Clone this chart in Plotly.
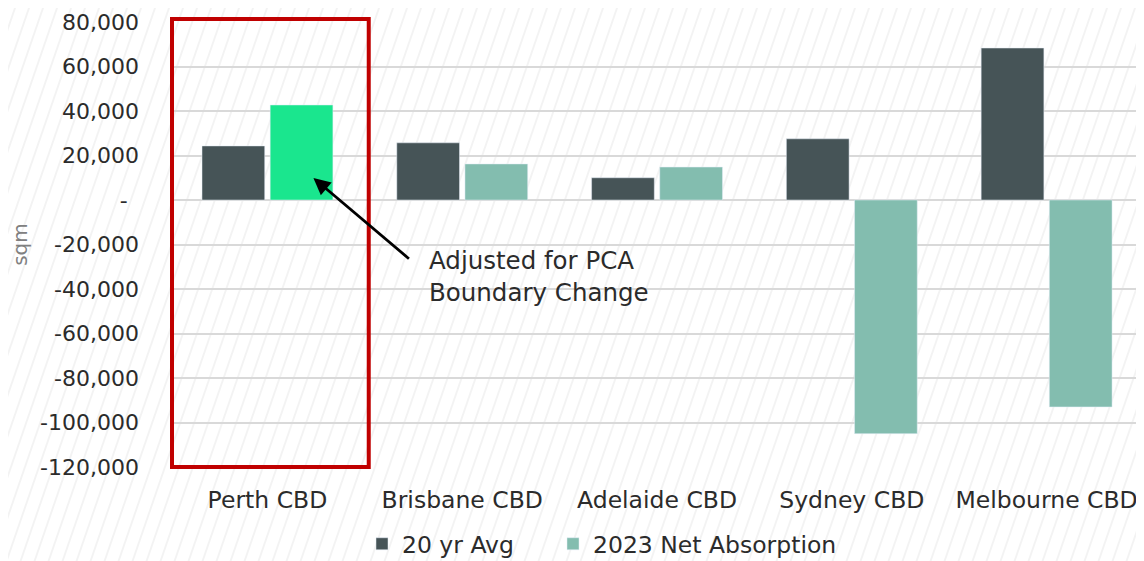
import base64
import plotly.graph_objects as go

categories = ["Perth CBD", "Brisbane CBD", "Adelaide CBD", "Sydney CBD", "Melbourne CBD"]
avg_20yr = [24300, 25700, 10000, 27500, 68300]
net_2023 = [42700, 16200, 14800, -105000, -93000]
highlight = [0]  # Perth CBD bar, adjusted for PCA boundary change
tick_vals = [80000, 60000, 40000, 20000, 0, -20000, -40000, -60000, -80000, -100000, -120000]
tick_text = ["80,000", "60,000", "40,000", "20,000", "-\u00a0\u2009", "-20,000", "-40,000",
             "-60,000", "-80,000", "-100,000", "-120,000"]

C_AVG = "#465457"
C_NET = "#83BDAF"
C_HI = "#1AE68E"
FONT = "DejaVu Sans"
TXT = "#2b2b2b"

# page body has an 8px margin, so the figure is drawn 8px in from the top-left
W, H = 1136, 553
ML, MR, MT, MB = 162, 0, 14, 94
PW, PH = W - ML - MR, H - MT - MB

svg = f'''<svg xmlns="http://www.w3.org/2000/svg" width="{W}" height="{H}">
<defs><pattern id="p" width="14" height="14" patternUnits="userSpaceOnUse" patternTransform="skewX(-19)">
<line x1="7" y1="-1" x2="7" y2="15" stroke="#e9e9e9" stroke-width="1.1"/></pattern></defs>
<rect width="{W}" height="{H}" fill="white"/><rect width="{W}" height="{H}" fill="url(#p)"/></svg>'''
src = "data:image/svg+xml;base64," + base64.b64encode(svg.encode()).decode()

fig = go.Figure()
fig.add_trace(go.Bar(name="20 yr Avg", x=categories, y=avg_20yr, marker_color=C_AVG,
                     legend="legend"))
fig.add_trace(go.Bar(name="2023 Net Absorption", x=categories, y=net_2023,
                     marker_color=C_NET, legend="legend2",
                     selectedpoints=highlight,
                     selected=dict(marker=dict(color=C_HI, opacity=1)),
                     unselected=dict(marker=dict(opacity=1))))

def leg(x_screen):
    return dict(orientation="h", x=(x_screen - 8 - ML) / PW, xanchor="left", y=-0.173,
                yanchor="middle", font=dict(size=23.5, color=TXT), itemwidth=30,
                bgcolor="rgba(0,0,0,0)")

fig.update_layout(
    width=W, height=H,
    margin=dict(l=ML, r=MR, t=MT, b=MB, autoexpand=False),
    paper_bgcolor="white", plot_bgcolor="rgba(0,0,0,0)",
    barmode="group", bargap=0.3, bargroupgap=0.08,
    font=dict(family=FONT, size=22, color=TXT),
    showlegend=True,
    legend=leg(362),
    legend2=leg(553),
    images=[dict(source=src, xref="paper", yref="paper", x=-ML / PW, y=1 + MT / PH,
                 sizex=W / PW, sizey=H / PH, sizing="stretch", layer="below",
                 xanchor="left", yanchor="top")],
)
fig.update_xaxes(showgrid=False, showline=False, ticks="", automargin=False,
                 tickfont=dict(size=23.5, color=TXT), ticklabelstandoff=16)
fig.update_yaxes(range=[-120000, 80000], tickvals=tick_vals, ticktext=tick_text, automargin=False,
                 showgrid=True, gridcolor="#d9d9d9", gridwidth=1.5,
                 zeroline=True, zerolinecolor="#d9d9d9", zerolinewidth=1.5,
                 tickfont=dict(size=22, color=TXT), ticklabelstandoff=30,
                 title=dict(text="sqm", font=dict(size=20, color="#808080"), standoff=7))

fig.add_shape(type="rect", xref="x", yref="paper", x0=-0.49, x1=0.52, y0=0, y1=1 + 3 / PH,
              line=dict(color="#C00000", width=4), fillcolor="rgba(0,0,0,0)", layer="above")

fig.add_annotation(x=0.236, y=9900, xref="x", yref="y", ax=97, ay=82, text="",
                   showarrow=True, arrowhead=2, arrowsize=1.2, arrowwidth=2.8,
                   arrowcolor="black", standoff=0)
fig.add_annotation(x=(427 - 267) / 195, y=-34500, xref="x", yref="y", xanchor="left", yanchor="middle",
                   align="left", showarrow=False,
                   text="Adjusted for PCA<br>Boundary Change",
                   font=dict(size=24.5, color=TXT))

fig.write_html("out.html")
